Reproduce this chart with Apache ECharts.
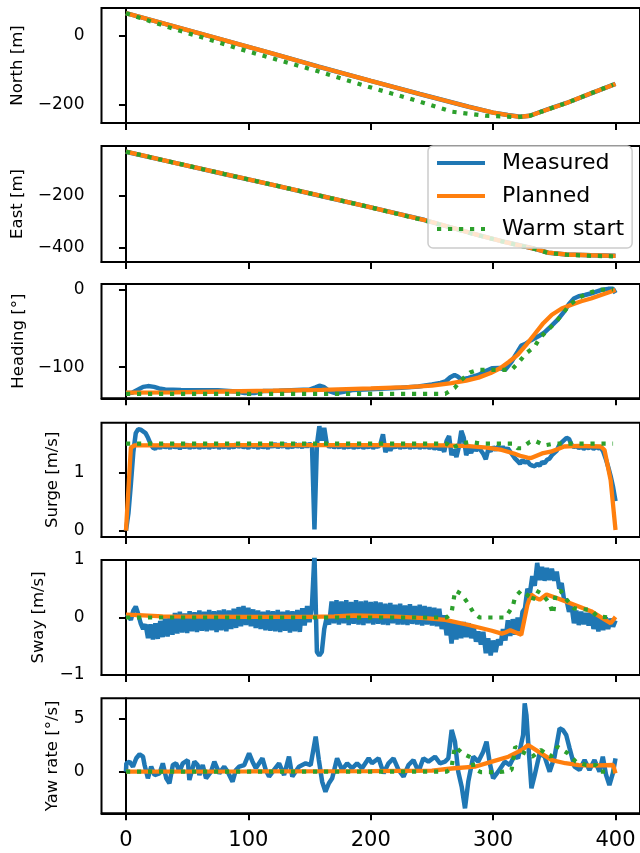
<!DOCTYPE html>
<html><head><meta charset="utf-8">
<script src="https://cdn.jsdelivr.net/npm/echarts@6/dist/echarts.min.js"></script>
<style>html,body{margin:0;padding:0;background:#fff}#c{width:640px;height:853px}</style>
</head><body><div id="c"></div><script>
// ---------- data ----------
const seriesNames = ['Measured', 'Planned', 'Warm start'];
const xTicks = [0, 100, 200, 300, 400];

// North [m]
const northMeasured = [[0,66],[40,27],[80,-12],[120,-51],[157.6,-89],[200,-130],[240,-168],[280,-205],[300,-222],[312,-229],[322,-234],[330,-231],[345,-212],[360,-194],[380,-166],[400,-139]];
const northPlanned  = [[0,66],[40,27],[80,-12],[120,-51],[157.6,-89],[200,-130],[240,-168],[280,-205],[300,-222],[312,-229],[322,-234],[330,-231],[345,-212],[360,-194],[380,-166],[400,-139]];
const northWarm     = [[0,66],[35,25],[100,-45],[157.6,-103],[198,-147],[233.6,-183.5],[266,-219],[293.5,-231],[320,-235],[330,-231],[345,-212],[360,-194],[380,-166],[398,-141]];

// East [m]
const eastMeasured = [[0,-30],[40,-73],[80,-116],[120,-158],[157.6,-199],[200,-245],[244,-294],[288,-352],[310,-379],[334,-405],[345,-420],[360,-427],[380,-430],[400,-432]];
const eastPlanned  = [[0,-30],[40,-73],[80,-116],[120,-158],[157.6,-199],[200,-245],[244,-294],[288,-352],[310,-379],[334,-405],[345,-420],[360,-427],[380,-430],[400,-432]];
const eastWarm     = [[0,-30],[40,-73],[80,-116],[120,-158],[157.6,-199],[200,-245],[244,-296],[288,-353],[310,-380],[334,-406],[345,-421],[360,-428],[380,-432],[398,-434]];

// Heading [deg]
const headingMeasured = [[0,-133.5],[5,-133],[10,-129],[14,-125.5],[18,-124.5],[23,-125.5],[27,-127.5],[32,-129],[45,-129.5],[60,-130],[75,-130],[90,-131.5],[97,-133.5],[105,-133.5],[112,-131],[125,-130.5],[140,-129.5],[150,-129],[155,-126],[158,-124],[162,-126],[166,-131],[171,-133.7],[178,-132],[185,-129.5],[200,-128.5],[212,-127.5],[225,-126.5],[239,-125],[250,-122.5],[257,-120.5],[261,-118.5],[265,-113],[268.5,-110],[271,-112],[274,-116],[280,-114],[288,-110],[294,-105],[299,-101.5],[305,-101],[310,-103],[315,-93],[320,-80],[323,-72],[326,-70],[331,-65],[337,-60],[342,-55],[347,-47.5],[353,-38],[358,-28],[362,-18],[366,-11],[370,-8],[375,-6.5],[382,-3.5],[388,0],[394,1.5],[398,1.5],[400,-4]];
const headingPlanned = [[0,-133],[40,-132.5],[80,-131.5],[120,-130.5],[160,-129.3],[200,-127.5],[230,-125.8],[250,-124],[266,-120.7],[278,-117.5],[288,-113.5],[298,-107.5],[306,-101],[313,-93],[320,-84],[327,-71],[334,-57],[341,-43],[348,-32],[356,-24],[364,-19],[372,-14.5],[380,-11],[390,-5.5],[400,0]];
const headingWarm = [[0,-134.5],[261,-134.5],[268.5,-127],[274,-116.4],[281,-107],[288,-103.5],[307,-103.5],[315,-103.5],[320.3,-94.8],[327,-82],[334,-73.3],[338,-62.5],[344.7,-51.7],[351.5,-41],[357,-30.2],[362.4,-19.4],[369.2,-10.8],[377.3,-4.3],[385.4,0],[393.6,0.9],[398,0.9]];

// sample times of the densely logged measurements (every 2 s)
const tDense = Array.from({length: 201}, (_, i) => i * 2);

// Surge [m/s]
const surgeMeasured = [
0,0.3,0.8,1.35,1.68,1.75,1.74,1.71,1.68,1.6,
1.5,1.43,1.41,1.46,1.42,1.48,1.43,1.47,1.42,1.49,
1.43,1.47,1.41,1.48,1.43,1.49,1.42,1.47,1.43,1.48,
1.42,1.47,1.43,1.49,1.42,1.47,1.44,1.48,1.42,1.47,
1.43,1.48,1.42,1.47,1.43,1.49,1.44,1.48,1.43,1.47,
1.42,1.48,1.44,1.47,1.42,1.48,1.43,1.47,1.42,1.49,
1.44,1.5,1.43,1.49,1.44,1.5,1.42,1.48,1.43,1.5,
1.44,1.49,1.43,1.5,1.44,1.5,1.46,0.02,1.48,1.8,
1.55,1.77,1.5,1.44,1.48,1.43,1.47,1.43,1.48,1.42,
1.47,1.43,1.48,1.42,1.47,1.43,1.48,1.42,1.47,1.43,
1.48,1.42,1.47,1.44,1.5,1.66,1.35,1.48,1.38,1.47,
1.43,1.48,1.42,1.47,1.43,1.48,1.42,1.47,1.43,1.48,
1.42,1.47,1.43,1.47,1.42,1.46,1.41,1.45,1.4,1.44,
1.36,1.55,1.63,1.3,1.4,1.27,1.44,1.72,1.6,1.3,
1.42,1.34,1.44,1.38,1.43,1.38,1.32,1.23,1.4,1.37,
1.44,1.39,1.45,1.4,1.44,1.39,1.42,1.36,1.3,1.24,
1.2,1.15,1.22,1.17,1.2,1.14,1.12,1.11,1.15,1.12,
1.18,1.16,1.22,1.24,1.3,1.34,1.38,1.47,1.52,1.56,
1.6,1.58,1.48,1.44,1.46,1.42,1.45,1.41,1.44,1.42,
1.45,1.41,1.44,1.42,1.43,1.36,1.24,1.1,0.94,0.75,
0.51];
const surgePlanned = [[0,0],[4,1.43],[7,1.47],[100,1.475],[200,1.475],[260,1.47],[280,1.455],[295,1.43],[307,1.39],[317,1.33],[322,1.29],[328,1.26],[331,1.25],[340,1.33],[347,1.36],[352,1.4],[358,1.45],[370,1.46],[388,1.45],[391,1.39],[396,0.87],[400,0.01]];
const surgeWarm = [[0,1.5],[262,1.5],[266,1.42],[274,1.5],[281,1.53],[290,1.5],[316,1.5],[320,1.42],[323,1.42],[330,1.53],[334,1.55],[342,1.47],[350,1.5],[398,1.5]];

// Sway [m/s]
const swayMeasured = [
0.01,0.03,-0.04,0.12,0.19,0.06,-0.1,-0.2,-0.12,-0.36,
-0.12,-0.38,-0.1,-0.37,-0.06,-0.34,-0.02,-0.33,0.04,-0.3,
0.08,-0.28,0.1,-0.26,0.07,-0.27,0.11,-0.24,0.09,-0.25,
0.12,-0.23,0.1,-0.24,0.13,-0.22,0.11,-0.25,0.12,-0.22,
0.14,-0.24,0.12,-0.2,0.15,-0.18,0.18,-0.15,0.2,-0.13,
0.17,-0.15,0.14,-0.18,0.12,-0.2,0.1,-0.22,0.12,-0.23,
0.11,-0.24,0.13,-0.25,0.1,-0.23,0.12,-0.26,0.11,-0.24,
0.13,-0.25,0.16,-0.14,0.2,-0.08,0.22,1.1,-0.6,-0.66,
-0.6,-0.2,0.0,-0.12,0.28,-0.1,0.3,-0.12,0.28,-0.1,
0.3,-0.13,0.27,-0.11,0.3,-0.12,0.28,-0.13,0.29,-0.1,
0.27,-0.12,0.28,-0.11,0.26,-0.12,0.24,-0.13,0.25,-0.1,
0.22,-0.12,0.24,-0.12,0.21,-0.13,0.23,-0.11,0.2,-0.12,
0.22,-0.14,0.2,-0.12,0.18,-0.14,0.17,-0.15,0.15,-0.2,
0.04,-0.31,-0.07,-0.45,-0.08,-0.38,-0.1,-0.36,-0.08,-0.34,
-0.1,-0.36,-0.15,-0.42,-0.24,-0.47,-0.25,-0.62,-0.36,-0.66,
-0.4,-0.6,-0.38,-0.48,-0.2,-0.4,-0.05,-0.32,-0.03,-0.3,
0.0,-0.24,0.1,0.16,0.5,0.42,0.72,0.55,0.95,0.65,
0.88,0.64,0.86,0.65,0.85,0.64,0.8,0.5,0.6,0.3,
0.3,0.1,0.22,-0.1,0.12,-0.13,0.1,-0.12,0.08,-0.14,
0.1,-0.2,0.05,-0.24,0.02,-0.22,0.0,-0.2,-0.02,-0.16,
-0.05];
const swayPlanned = [[0,0.05],[10,0.04],[30,0.02],[100,0.01],[150,0.01],[170,0.02],[186,0.035],[217,0.02],[244,-0.01],[261,-0.04],[280,-0.13],[299,-0.23],[307,-0.28],[310,-0.26],[314,-0.22],[323,-0.3],[328,0.22],[331,0.4],[335,0.34],[338,0.31],[343.6,0.4],[353,0.33],[380,0.11],[396,-0.1],[400,0.01]];
const swayWarm = [[0,0],[262,0],[266,0.08],[267.5,0.28],[269,0.47],[274,0.41],[280,0.23],[284,0.08],[289,0],[310,0],[316,0.19],[318,0.36],[323,0.47],[330,0.36],[332,0.28],[335,0.47],[340,0.41],[346,0.25],[349,0.06],[351,0.4],[355,0.47],[360,0.31],[366,0.16],[380,0.13],[385,0.02],[395,0]];

// Yaw rate [deg/s]
const yawMeasured = [[0,0],[0.3,0.79],[3,0.95],[5.7,0.47],[8.4,1.27],[11.1,1.65],[13.9,1.42],[15.2,0.63],[17.9,-0.63],[20.6,0.47],[23.4,-0.32],[27.4,-0.16],[30.1,0.79],[32.9,-0.63],[35.5,-1.1],[38.3,0.63],[41,0.79],[43.7,0],[46.4,0.79],[50.5,1.1],[51.8,-0.79],[55.9,0.95],[58.6,0.63],[60,-0.32],[62.7,0.63],[65.4,-0.63],[69.5,0],[72.2,0.95],[76.3,-0.16],[80.3,0.47],[83.1,0],[87.1,-0.95],[89.8,0.16],[92.5,0.47],[96.6,0.63],[100.6,1.74],[103.4,0.95],[106.1,0.32],[111.5,1.27],[114.2,0.16],[116.9,-0.47],[121,0.16],[125.1,0.79],[129.2,-0.32],[133.2,1.42],[135.9,-0.47],[141.3,0.47],[146.8,0.79],[150.9,0.63],[155,3.32],[157.6,1.1],[160.3,-0.95],[163,-1.9],[165.8,-1.1],[168.5,-0.63],[172.5,1.27],[176.6,0.16],[180.7,0.79],[184.8,0.32],[188.8,0.79],[192.9,0.32],[198.3,1.27],[201,0.79],[206.4,1.27],[210.5,-0.16],[214.5,0.79],[218.6,1.27],[222.7,0.16],[226.8,-0.47],[230.8,0.63],[234.9,1.1],[239,0],[243,1.27],[247.1,0.95],[252.5,1.42],[256.6,0.79],[260.7,0.95],[263.4,1.27],[266.1,3.96],[268.8,2.85],[271.5,0],[274.3,-1.42],[277,-3.48],[279.7,-0.95],[283.7,1.42],[287.8,0.95],[291.9,1.9],[294.6,2.85],[297.3,0.79],[300,-0.63],[304.1,0],[309.5,0.95],[313.6,0.63],[317.7,1.58],[320.4,1.27],[324.5,3.48],[325.8,6.48],[327.2,5.38],[328.6,2.85],[331.3,-1.58],[334,-0.32],[338,1.74],[342.1,1.42],[346.2,0],[350.2,1.42],[354.3,4.11],[357,3.96],[359.7,3.48],[362.5,2.21],[366.5,0.47],[370.6,0.16],[374.7,1.1],[378.7,0.16],[382.8,1.1],[386.9,0],[389.6,1.42],[392.3,-0.32],[395,-1.27],[397.8,-0.16],[400,1.27]];
const yawPlanned = [[0,0],[100,0.02],[200,0.05],[250,0.1],[266,0.3],[285,0.47],[299,0.95],[312.5,1.42],[323.5,2.06],[328.6,2.53],[337,1.9],[348,1.1],[359,0.8],[370,0.63],[380,0.57],[398,0.63],[400,-0.16]];
const yawWarm = [[0,0],[262,0],[266,0.3],[267.5,1.58],[269,2.37],[275,1.74],[283,1.27],[284,0.3],[290,-0.05],[300,-0.05],[308,0],[315,0.16],[316.5,1.1],[318,2.37],[323,1.9],[332,1.42],[339,2.06],[347,1.42],[352.7,2.37],[361,1.74],[367.6,0.95],[376,0.63],[384,0.63],[388,0],[397.5,0]];

// panel definitions (axis names, ranges, tick values)
const panelNames = ['North [m]', 'East [m]', 'Heading [°]', 'Surge [m/s]', 'Sway [m/s]', 'Yaw rate [°/s]'];
const panelMin = [-252, -456, -140.3, -0.11, -1, -3.95];
const panelMax = [81, -8, 7.8, 1.86, 1, 6.96];
const panelTicks = [[-200, 0], [-400, -200], [-100, 0], [0, 1], [-1, 0, 1], [0, 5]];

// ---------- chart ----------
const FONT = 'DejaVu Sans';
const colors = ['#1f77b4', '#ff7f0e', '#2ca02c'];
const gridTop = [8, 146, 284, 422.7, 560, 698.3];
const gridHeight = [115, 116, 114.3, 114.3, 115, 115];
const nameGaps = [75.5, 75.5, 74.5, 40.5, 54.5, 40];

const dense = (vals) => vals.map((v, i) => [tDense[i], v]);
const panelData = [
  [northMeasured, northPlanned, northWarm],
  [eastMeasured, eastPlanned, eastWarm],
  [headingMeasured, headingPlanned, headingWarm],
  [dense(surgeMeasured), surgePlanned, surgeWarm],
  [dense(swayMeasured), swayPlanned, swayWarm],
  [yawMeasured, yawPlanned, yawWarm]
];

const grid = [], xAxis = [], yAxis = [], series = [];
for (let i = 0; i < 6; i++) {
  grid.push({left: 101.5, right: -3, top: gridTop[i], height: gridHeight[i],
    show: true, borderColor: '#000', borderWidth: 2, backgroundColor: 'transparent'});
  xAxis.push({gridIndex: i, type: 'value', min: -20, max: 420,
    axisLine: {show: true, onZero: false, lineStyle: {color: '#000', width: 2}},
    axisTick: {show: true, customValues: xTicks, length: 7, lineStyle: {color: '#000', width: 2}},
    axisLabel: {show: i === 5, customValues: xTicks, fontSize: 21, color: '#000', fontFamily: FONT, margin: 17},
    splitLine: {show: false}});
  yAxis.push({gridIndex: i, type: 'value', min: panelMin[i], max: panelMax[i],
    name: panelNames[i], nameLocation: 'middle', nameGap: nameGaps[i], nameMoveOverlap: false,
    nameTextStyle: {fontSize: 16.5, color: '#000', fontFamily: FONT},
    axisLine: {show: true, lineStyle: {color: '#000', width: 2}},
    axisTick: {show: true, customValues: panelTicks[i], length: 7, lineStyle: {color: '#000', width: 2}},
    axisLabel: {customValues: panelTicks[i], fontSize: 17, color: '#000', fontFamily: FONT, margin: 17,
      formatter: (v) => String(v).replace('-', '\u2212')},
    splitLine: {show: false}});
  for (let s = 0; s < 3; s++) {
    series.push({name: seriesNames[s], type: 'line', xAxisIndex: i, yAxisIndex: i,
      data: panelData[i][s], symbol: 'none', showSymbol: false, clip: true,
      color: colors[s],
      lineStyle: s === 2 ? {color: colors[s], width: 4.2, type: [4.2, 6.8], cap: 'butt'}
                         : {color: colors[s], width: s === 0 ? 4.5 : 4.3},
      z: 2 + s});
  }
}

const chart = echarts.init(document.getElementById('c'), null, {renderer: 'canvas'});
chart.setOption({
  animation: false,
  backgroundColor: '#fff',
  textStyle: {fontFamily: FONT},
  grid, xAxis, yAxis, series,
  legend: {
    data: seriesNames, orient: 'vertical', left: 428, top: 146,
    padding: [6, 8, 8, 7], itemGap: 11, itemWidth: 48, itemHeight: 14,
    backgroundColor: 'rgba(255,255,255,0.8)', borderColor: '#cccccc', borderWidth: 1.5, borderRadius: 5,
    itemStyle: {opacity: 0},
    lineStyle: {width: 4},
    textStyle: {fontSize: 22, color: '#000', fontFamily: FONT, padding: [0, 0, 0, 12]},
    selectedMode: false, z: 10
  }
});
</script></body></html>
